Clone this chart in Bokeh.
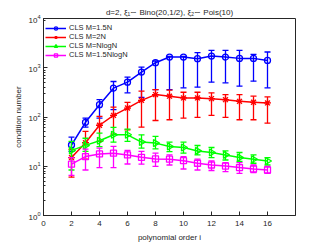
import numpy as np
from bokeh.plotting import figure
from bokeh.models import FixedTicker, Range1d, Legend, LegendItem, ColumnDataSource
from bokeh.embed import file_html
from bokeh.resources import INLINE

# ---- data ----
orders = [2, 3, 4, 5, 6, 7, 8, 9, 10, 11, 12, 13, 14, 15, 16]

cls15n_mean = [27, 78, 178, 385, 510, 817, 1265, 1650, 1650, 1530, 1730, 1650, 1550, 1550, 1410]
cls15n_up = [39, 95, 225, 526, 646, 1033, 1370, 1700, 1700, 2024, 2254, 2254, 2254, 1868, 2090]
cls15n_lo = [20, 62, 95, 141, 309, 250, 361, 361, 391, 404, 510, 494, 423, 535, 391]

cls2n_mean = [15, 30, 68, 108, 152, 218, 285, 265, 244, 244, 236, 225, 208, 199, 193]
cls2n_up = [22, 51, 103, 158, 199, 335, 361, 350, 318, 318, 309, 285, 285, 265, 256]
cls2n_lo = [6, 14, 32, 45, 55, 62, 85, 88, 95, 98, 108, 98, 88, 88, 75]

clsnlogn_mean = [21, 26.5, 33, 43.5, 43.5, 31, 29.5, 25.2, 24, 20.5, 19, 17, 15, 13.9, 12.8]
clsnlogn_up = [32, 37, 47, 61.5, 56.6, 43.5, 40.3, 30.8, 30.8, 26.4, 24, 20.5, 19, 17, 15]
clsnlogn_lo = [8.4, 20, 25, 30.8, 32, 23.3, 22.5, 19.9, 18.4, 17, 15, 13.4, 12.5, 11.5, 10.6]

cls15nlogn_mean = [11, 15.7, 17.8, 18.4, 17, 15.2, 14.1, 13.9, 13, 11.5, 10.6, 10.1, 9.4, 8.8, 8.4]
cls15nlogn_up = [15, 22.2, 23.3, 25.3, 20.9, 20, 18.4, 17, 15.7, 13.9, 12.8, 11.9, 11.9, 10.6, 9.9]
cls15nlogn_lo = [6.5, 8.4, 9.4, 9.4, 11.1, 11, 9.9, 10.6, 8.8, 8.4, 8.2, 7.8, 7.2, 7.4, 7.2]

series_names = ["CLS M=1.5N", "CLS M=2N", "CLS M=NlogN", "CLS M=1.5NlogN"]
x_ticks = [0, 2, 4, 6, 8, 10, 12, 14, 16]
title_text = "d=2, \u03be\u2081\u223c Bino(20,1/2), \u03be\u2082\u223c Pois(10)"

FONT = "Liberation Sans"

p = figure(width=326, height=244, output_backend="svg", toolbar_location=None,
           y_axis_type="log", x_range=Range1d(0, 18), y_range=Range1d(1, 1e4),
           min_border_left=43, min_border_right=31, min_border_top=18, min_border_bottom=27)

p.title.text = title_text
p.title.text_font = FONT
p.title.text_font_size = "8px"
p.title.text_font_style = "normal"
p.title.text_color = "#262626"
p.title.align = "center"
p.title.standoff = 3
p.title.offset = 0

p.xgrid.visible = False
p.ygrid.visible = False
p.outline_line_color = "#262626"
p.outline_line_width = 1

for ax in [p.xaxis[0], p.yaxis[0]]:
    ax.axis_line_color = "#262626"
    ax.major_tick_line_color = "#262626"
    ax.minor_tick_line_color = "#262626"
    ax.major_tick_in = 4
    ax.major_tick_out = 0
    ax.minor_tick_in = 2
    ax.minor_tick_out = 0
    ax.major_label_text_font = FONT
    ax.major_label_text_font_size = "8px"
    ax.major_label_text_color = "#262626"
    ax.axis_label_text_font = FONT
    ax.axis_label_text_font_size = "8px"
    ax.axis_label_text_font_style = "normal"
    ax.axis_label_text_color = "#262626"

p.xaxis.major_label_standoff = 5
p.xaxis.axis_label_standoff = 4
p.yaxis.major_label_standoff = 3
p.yaxis.axis_label_standoff = 2

p.xaxis.ticker = FixedTicker(ticks=x_ticks)
p.xaxis.minor_tick_line_color = None
p.xaxis.axis_label = "polynomial order i"
p.yaxis.axis_label = "condition number"

colors = ["#0000ff", "#ff0000", "#00ff00", "#ff00ff"]
means = [cls15n_mean, cls2n_mean, clsnlogn_mean, cls15nlogn_mean]
ups = [cls15n_up, cls2n_up, clsnlogn_up, cls15nlogn_up]
los = [cls15n_lo, cls2n_lo, clsnlogn_lo, cls15nlogn_lo]
markers = ["circle", "asterisk", "triangle", "square"]
angles = [0.0, 0.0, -np.pi / 2, 0.0]
sizes = [6, 7, 7, 6]

items = []
for name, c, m, u, l, mk, ang, sz in zip(series_names, colors, means, ups, los, markers, angles, sizes):
    src = ColumnDataSource(dict(x=orders, y=m, up=u, lo=l))
    p.segment(x0="x", y0="lo", x1="x", y1="up", source=src, line_color=c, line_width=1.3)
    p.scatter(x="x", y="up", source=src, marker="dash", size=6, line_color=c, line_width=1.3)
    p.scatter(x="x", y="lo", source=src, marker="dash", size=6, line_color=c, line_width=1.3)
    ln = p.line(x="x", y="y", source=src, line_color=c, line_width=1.5)
    sc = p.scatter(x="x", y="y", source=src, marker=mk, size=sz, angle=ang,
                   line_color=c, line_width=1.3, fill_color=None)
    items.append(LegendItem(label=name, renderers=[ln, sc]))

legend = Legend(items=items, location=(1, 155), label_text_font=FONT,
                label_text_font_size="7.5px", label_text_color="#262626",
                glyph_width=21, glyph_height=8, label_height=8, label_standoff=3,
                spacing=0, padding=1, margin=0, border_line_alpha=0,
                background_fill_alpha=1.0)
p.add_layout(legend)

open("out.html", "w").write(file_html(p, INLINE))
